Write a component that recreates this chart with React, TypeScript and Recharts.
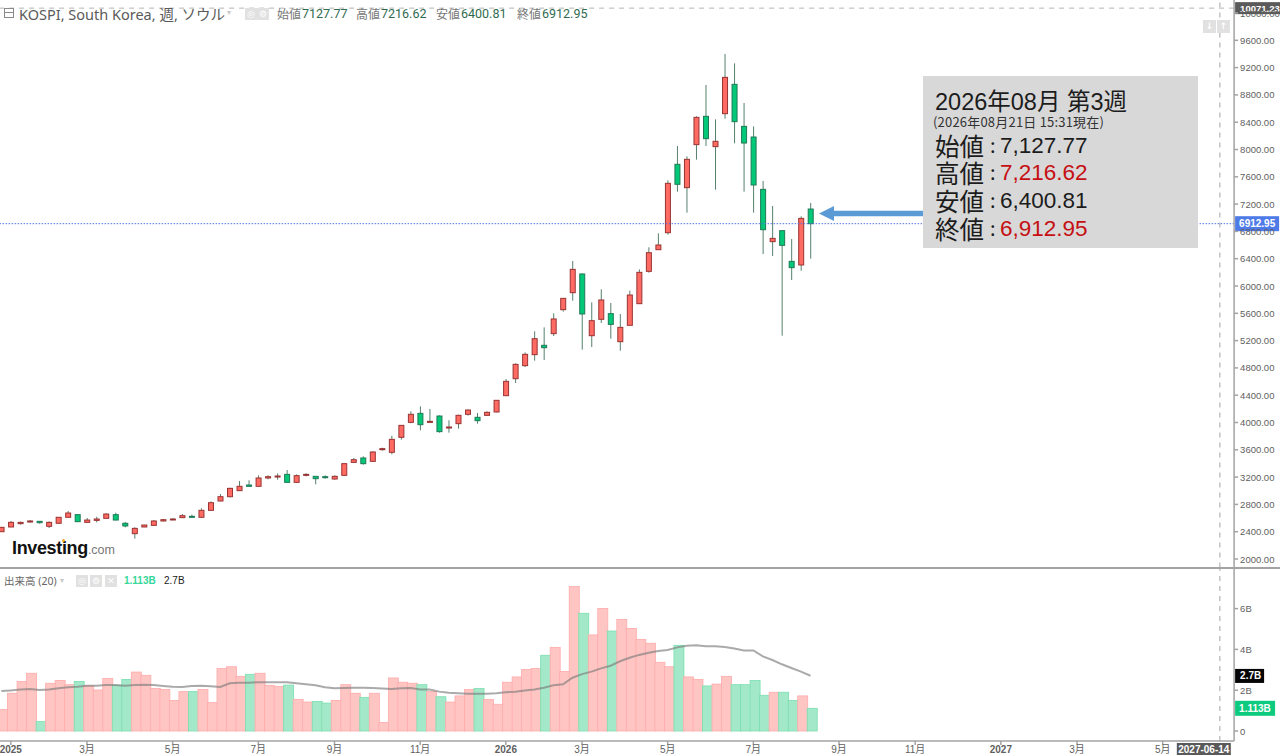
import React from "react";
import { ComposedChart, Bar, Line, XAxis, YAxis, ReferenceLine } from "recharts";

const opens = [2400,2469,2518,2542,2552,2479,2523,2611,2650,2537,2566,2596,2650,2523,2371,2469,2493,2557,2581,2606,2625,2611,2713,2850,2913,3001,3084,3065,3187,3201,3240,3123,3226,3211,3206,3172,3226,3416,3480,3431,3602,3563,3783,4002,4134,4002,4095,3924,3983,4120,4076,4105,4154,4393,4642,4833,4994,5131,5302,5653,5902,6176,5272,5512,5595,5184,5424,5741,6215,6532,6781,7783,7441,8071,8486,8042,8525,8955,8339,8183,7416,6650,6811,6361,6308,7127.77];
const highs = [2464,2557,2547,2571,2552,2552,2611,2703,2659,2601,2620,2669,2679,2542,2464,2498,2571,2586,2601,2659,2650,2742,2845,2952,3045,3143,3153,3226,3226,3255,3304,3240,3255,3216,3226,3226,3402,3480,3504,3577,3631,3807,3963,4164,4237,4198,4105,4032,4115,4193,4139,4164,4325,4637,4867,5028,5336,5394,5600,5819,6366,6186,5761,5951,5751,5590,5932,6244,6567,6772,7548,8051,7900,8486,8945,8442,9399,9262,8681,8339,7539,7172,6811,6689,7021,7216.62];
const lows = [2400,2469,2503,2532,2518,2454,2523,2606,2542,2532,2537,2596,2566,2464,2298,2469,2488,2552,2576,2601,2611,2606,2708,2845,2903,2996,3060,3060,3167,3162,3118,3118,3211,3094,3177,3162,3221,3407,3382,3426,3587,3534,3748,3988,3885,3993,3851,3851,3910,4100,3983,4100,4149,4393,4579,4813,4906,4916,5267,5624,5785,5067,5106,5458,5228,5052,5419,5741,6195,6532,6752,7382,7074,7851,8051,7411,8452,8090,7382,7074,6469,6440,5272,6088,6225,6400.81];
const closes = [2464,2537,2537,2557,2532,2537,2611,2674,2547,2571,2586,2659,2571,2484,2449,2498,2557,2576,2586,2635,2611,2713,2825,2913,3035,3065,3065,3187,3206,3216,3123,3221,3240,3177,3197,3211,3397,3455,3397,3568,3617,3753,3958,4120,3968,4017,3866,3934,4105,4183,4027,4149,4325,4603,4852,4999,5228,5096,5517,5819,6244,5590,5492,5795,5438,5394,5868,6200,6488,6601,7504,7490,7856,8471,8159,8120,9057,8408,8095,7480,6825,6698,6596,6269,6991,6912.95];
const volumes = [1.06,1.85,2.43,2.83,0.46,2.34,2.48,2.27,2.43,2.22,2.01,2.57,2.24,2.53,2.89,2.73,2.09,2.04,1.5,1.93,1.93,2.04,1.39,3.07,3.15,2.68,2.78,2.83,2.24,2.19,2.25,1.55,1.42,1.45,1.37,1.5,2.27,1.85,1.65,1.85,0.42,2.6,2.39,2.34,2.27,1.93,1.68,1.42,1.72,2.04,2.09,1.55,1.31,2.39,2.65,3.02,3.07,3.71,4.1,2.92,7.08,5.77,4.71,6.01,4.9,5.47,5.03,4.49,4.3,3.37,3.15,4.2,2.65,2.53,2.21,2.3,2.68,2.27,2.27,2.48,1.75,1.9,1.9,1.5,1.72,1.113];
const volumeAvg = [1.96,1.99,2.03,2.06,2.01,2.04,2.09,2.14,2.17,2.22,2.22,2.25,2.25,2.22,2.25,2.27,2.25,2.21,2.17,2.16,2.21,2.22,2.19,2.16,2.34,2.37,2.37,2.39,2.39,2.39,2.39,2.34,2.29,2.24,2.14,2.09,2.11,2.12,2.12,2.11,2.08,2.06,2.09,2.11,2.04,2.03,1.93,1.88,1.85,1.83,1.83,1.83,1.85,1.9,1.93,1.99,2.04,2.12,2.24,2.29,2.61,2.79,2.91,3.07,3.2,3.42,3.59,3.73,3.84,3.92,3.97,4.1,4.18,4.2,4.15,4.15,4.12,4.04,3.95,3.95,3.66,3.48,3.27,3.09,2.91,2.71];

const priceTicks = [2000,2400,2800,3200,3600,4000,4400,4800,5200,5600,6000,6400,6800,7200,7600,8000,8400,8800,9200,9600,10000];
const volumeTicks = [0,2,4,6];
const monthWeeks = ["2025-01-06","2025-03-03","2025-05-05","2025-07-07","2025-09-01","2025-11-03","2026-01-05","2026-03-02","2026-05-04","2026-07-06","2026-09-07","2026-11-02","2027-01-04","2027-03-01","2027-05-03"];
const monthLabels = ["2025","3月","5月","7月","9月","11月","2026","3月","5月","7月","9月","11月","2027","3月","5月"];
const CURSOR_WEEK = "2027-06-14";
const CURSOR_PRICE = 10071.23;
const LAST_PRICE = 6912.95;
const LAST_VOLUME = 1.113;
const LAST_AVG = 2.7;

const weekCount = 130;
const firstWeek = Date.UTC(2024, 11, 30);
const weeks = Array.from({ length: weekCount }, (_, i) =>
  new Date(firstWeek + i * 7 * 86400000).toISOString().slice(0, 10)
);

const rows = weeks.map((week, i) => ({
  week,
  open: opens[i],
  high: highs[i],
  low: lows[i],
  close: closes[i],
  volume: volumes[i],
  avg: volumeAvg[i],
}));

const UI = "'Liberation Sans','Noto Sans CJK JP',sans-serif";
const AXIS = "#a3a3a3";
const TEXT = "#5f5f5f";

const Candle = (p: any) => {
  const r = p.payload;
  if (!r || r.open === undefined || !p.height) return null;
  const up = r.close >= r.open;
  const k = p.height / (r.high - r.low);
  const top = p.y + (r.high - Math.max(r.open, r.close)) * k;
  const h = Math.max(Math.abs(r.close - r.open) * k, 1);
  const cx = p.x + p.width / 2;
  return (
    <g>
      <line x1={cx} x2={cx} y1={p.y} y2={p.y + p.height} stroke="#55806c" strokeWidth={1} />
      <rect x={p.x + 0.5} y={top} width={p.width - 1} height={h} fill={up ? "#ff6b62" : "#03c878"} stroke={up ? "#9a3333" : "#1f7a57"} strokeWidth={1} />
    </g>
  );
};

const VolumeBar = (p: any) => {
  const r = p.payload;
  if (!r || r.volume === undefined) return null;
  const up = r.close >= r.open;
  return (
    <rect x={p.x + 1.5} y={p.y} width={p.width} height={p.height}
      fill={up ? "#ffc5c3" : "#a3e9c9"} stroke={up ? "#ffabab" : "#79dfb0"} strokeWidth={0.8} />
  );
};

const RightTick = (p: any) => {
  const txt = p.fmt(p.payload.value);
  return (
    <text x={p.x} y={p.y + 3.5} textAnchor="start" fontFamily={UI} fontSize={9.5} fontWeight={500} fill={TEXT}>{txt}</text>
  );
};

const MonthTick = (p: any) => {
  const idx = monthWeeks.indexOf(p.payload.value);
  const label = monthLabels[idx] ?? "";
  const year = /^\d+$/.test(label);
  return (
    <text x={p.x} y={p.y + 8} textAnchor="middle" fontFamily={UI} fontSize={10} fontWeight={year ? 700 : 400} fill={TEXT}>{label}</text>
  );
};

const SideTag = (p: any) => {
  const vb = p.viewBox;
  const x = vb.x + vb.width + 1;
  const y = vb.y;
  return (
    <g>
      <rect x={x} y={y - p.h / 2} width={p.w} height={p.h} fill={p.fill} />
      <text x={x + p.pad} y={y + 3.5} fontFamily={UI} fontSize={p.fs ?? 10} fontWeight={700} fill="#fff">{p.text}</text>
    </g>
  );
};

const DateTag = (p: any) => {
  const vb = p.viewBox;
  const cx = vb.x;
  const bottom = vb.y + vb.height;
  return (
    <g>
      <rect x={cx - 43} y={bottom + 2} width={54} height={12} fill="#5a5a5a" />
      <text x={cx - 16} y={bottom + 11.5} textAnchor="middle" fontFamily={UI} fontSize={10} fontWeight={700} fill="#fff">{CURSOR_WEEK}</text>
    </g>
  );
};

const abs = (left: number, top: number, extra: React.CSSProperties = {}): React.CSSProperties => ({
  position: "absolute", left, top, whiteSpace: "nowrap", fontFamily: UI, ...extra,
});

const IconBox = ({ x, y, s = 12, children }: { x: number; y: number; s?: number; children?: React.ReactNode }) => (
  <div style={abs(x, y, { width: s, height: s, background: "#e1e1e1", color: "#fff", fontFamily: "'DejaVu Sans'", fontSize: 9, lineHeight: `${s}px`, textAlign: "center", fontWeight: 700 })}>{children}</div>
);

const QuoteRow = ({ y, name, value, red }: { y: number; name: string; value: string; red?: boolean }) => (
  <>
    <div style={abs(935, y, { fontFamily: "'Noto Sans CJK JP'", fontSize: 24.5, lineHeight: "28px", color: "#1c1c1c" })}>{name}</div>
    <div style={abs(990, y, { fontFamily: "'Noto Sans CJK JP'", fontSize: 20, lineHeight: "26px", color: "#1c1c1c" })}>:</div>
    <div style={abs(1000, y, { fontSize: 22.5, lineHeight: "28px", color: red ? "#c60f13" : "#1c1c1c" })}>{value}</div>
  </>
);

const HeaderValue = ({ x, name, value }: { x: number; name: string; value: string }) => (
  <>
    <div style={abs(x, 6, { fontFamily: "'Noto Sans CJK JP'", fontSize: 12, lineHeight: "16px", color: "#777" })}>{name}</div>
    <div style={abs(x + 25, 6, { fontFamily: "Roboto", fontSize: 12.5, lineHeight: "16px", color: "#2f6b50" })}>{value}</div>
  </>
);

export default function App() {
  return (
    <div style={{ position: "fixed", left: 0, top: 0, width: 1280, height: 755, overflow: "hidden", background: "#fff" }}>
      <div style={{ position: "absolute", left: -20, top: 0 }}>
        <ComposedChart width={1300} height={568} data={rows} barCategoryGap={0} margin={{ top: 0, right: 0, bottom: 0.5, left: 16.54 }}>
          <XAxis dataKey="week" hide />
          <YAxis orientation="right" width={45.9} type="number" domain={[1875.5, 10190.5]} allowDataOverflow
            ticks={priceTicks} interval={0} stroke={AXIS} strokeWidth={1.5} tickSize={4} tickMargin={2}
            tick={<RightTick fmt={(v: number) => v.toFixed(2)} />} />
          <ReferenceLine x={CURSOR_WEEK} stroke="#c4c4c4" strokeWidth={1.5} strokeDasharray="5 5" />
          <ReferenceLine y={CURSOR_PRICE} stroke="#b5b5b5" strokeWidth={1} strokeDasharray="5 5"
            label={<SideTag w={46} h={12} fill="#5a5a5a" pad={5} fs={9.5} text="10071.23" />} />
          <Bar dataKey={(d: any) => (d.high === undefined ? undefined : [d.low, d.high])} barSize={6} shape={<Candle />} isAnimationActive={false} />
          <ReferenceLine y={LAST_PRICE} stroke="#4f72e3" strokeWidth={1} strokeDasharray="1.5 1.5"
            label={<SideTag w={44} h={15} fill="#4f7be8" pad={4} text="6912.95" />} />
        </ComposedChart>
      </div>
      <div style={{ position: "absolute", left: -20, top: 568 }}>
        <ComposedChart width={1300} height={187} data={rows} barCategoryGap={0} barGap={0} margin={{ top: 0, right: 0, bottom: 0, left: 16.54 }}>
          <XAxis dataKey="week" height={14} ticks={monthWeeks} interval={0} stroke={AXIS} strokeWidth={1.5} tickSize={4} tickMargin={0} tick={<MonthTick />} />
          <YAxis orientation="right" width={45.9} type="number" domain={[-0.49, 7.99]} allowDataOverflow
            ticks={volumeTicks} interval={0} stroke={AXIS} strokeWidth={1.5} tickSize={4} tickMargin={2}
            tick={<RightTick fmt={(v: number) => (v === 0 ? "0" : `${v}B`)} />} />
          <ReferenceLine x={CURSOR_WEEK} stroke="#c4c4c4" strokeWidth={1.5} strokeDasharray="5 5" label={<DateTag />} />
          <Bar dataKey="volume" shape={<VolumeBar />} isAnimationActive={false} />
          <Line dataKey="avg" stroke="#7d7d7d" strokeOpacity={0.65} strokeWidth={2} dot={false} isAnimationActive={false} />
          <ReferenceLine y={LAST_AVG} stroke="none" label={<SideTag w={29} h={14} fill="#050505" pad={5} text="2.7B" />} />
          <ReferenceLine y={LAST_VOLUME} stroke="none" label={<SideTag w={40} h={15} fill="#0ccb7e" pad={4} text="1.113B" />} />
        </ComposedChart>
      </div>
      <div style={{ position: "absolute", left: 0, top: 567, width: 1280, height: 1.5, background: AXIS }} />

      {/* header */}
      <div style={abs(4, 8, { width: 10, height: 10, boxSizing: "border-box", border: "1px solid #8a8a8a" })}>
        <div style={{ height: 3, borderBottom: "1px solid #8a8a8a" }} />
      </div>
      <div style={abs(19, 5, { fontFamily: "'Noto Sans','Noto Sans CJK JP'", fontSize: 14.5, lineHeight: "18px", color: "#5a5a5a" })}>KOSPI, South Korea, 週, ソウル</div>
      <div style={abs(227, 7, { fontSize: 8, lineHeight: "12px", color: "#c9c9c9" })}>▾</div>
      <IconBox x={245} y={8}>◎</IconBox>
      <IconBox x={257} y={8}>⚙</IconBox>
      <HeaderValue x={277} name="始値" value="7127.77" />
      <HeaderValue x={356} name="高値" value="7216.62" />
      <HeaderValue x={436} name="安値" value="6400.81" />
      <HeaderValue x={517} name="終値" value="6912.95" />
      <IconBox x={1203} y={20} s={13}>↓</IconBox>
      <IconBox x={1217} y={20} s={13}>↑</IconBox>

      {/* volume legend */}
      <div style={abs(4, 574, { fontFamily: "'Noto Sans','Noto Sans CJK JP'", fontSize: 10.5, lineHeight: "14px", color: "#666" })}>出来高 (20)</div>
      <div style={abs(60, 575, { fontSize: 8, lineHeight: "12px", color: "#c9c9c9" })}>▾</div>
      <IconBox x={76} y={575}>◎</IconBox>
      <IconBox x={90} y={575}>⚙</IconBox>
      <IconBox x={105} y={575}>✕</IconBox>
      <div style={abs(124, 574, { fontSize: 10, lineHeight: "14px", fontWeight: 700, color: "#35d79a" })}>1.113B</div>
      <div style={abs(164, 574, { fontSize: 10, lineHeight: "14px", color: "#222" })}>2.7B</div>

      {/* logo */}
      <div style={abs(12, 538, { fontSize: 18, lineHeight: "20px", fontWeight: 700, color: "#111", letterSpacing: -0.35 })}>
        Investing<span style={{ fontSize: 12.5, fontWeight: 400, color: "#777", letterSpacing: 0 }}>.com</span>
      </div>
      <div style={abs(62, 539, { width: 3, height: 3, borderRadius: 2, background: "#f5a623" })} />

      {/* quote panel */}
      <div style={abs(923, 76, { width: 275, height: 172, background: "#d8d8d8" })} />
      <div style={abs(935, 87, { fontSize: 23.5, lineHeight: "30px", color: "#1c1c1c" })}>2026年08月 第3週</div>
      <div style={abs(933, 114, { fontFamily: "'Noto Sans CJK JP'", fontSize: 13, lineHeight: "16px", letterSpacing: 0.2, color: "#333" })}>(2026年08月21日 15:31現在)</div>
      <QuoteRow y={132} name="始値" value="7,127.77" />
      <QuoteRow y={159} name="高値" value="7,216.62" red />
      <QuoteRow y={187} name="安値" value="6,400.81" />
      <QuoteRow y={215} name="終値" value="6,912.95" red />

      {/* arrow */}
      <svg style={abs(815, 200, { width: 110, height: 28 })} width={110} height={28}>
        <polygon points="4,13.5 19,6 19,10.8 108,10.8 108,16.2 19,16.2 19,21" fill="#5b9bd5" />
      </svg>
    </div>
  );
}
